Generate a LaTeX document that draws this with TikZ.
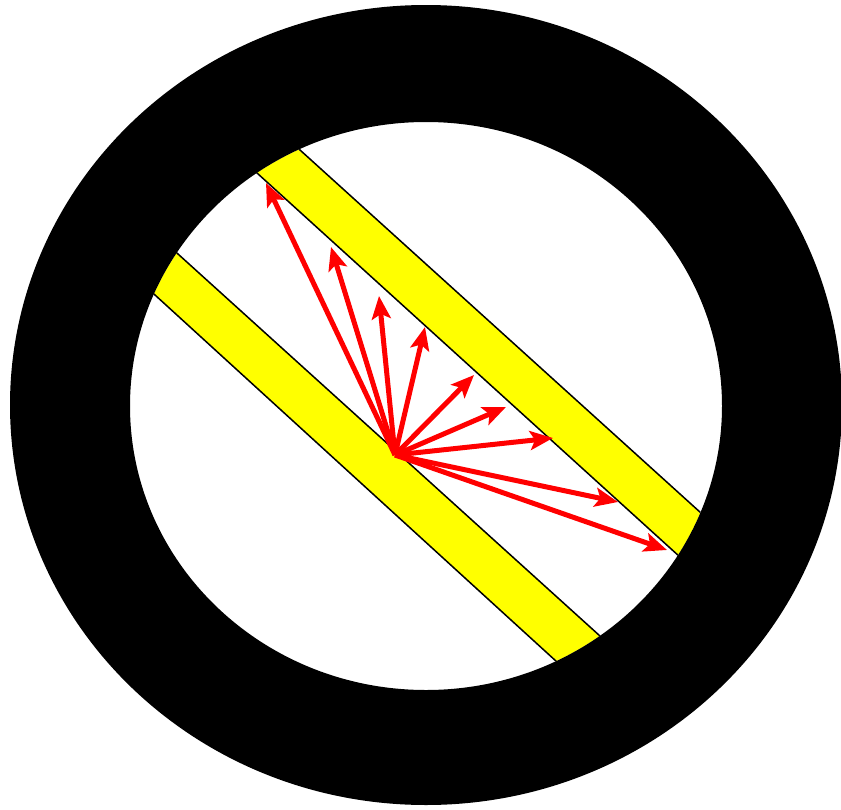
\documentclass[tikz,border=0pt]{standalone}
\usetikzlibrary{arrows.meta, positioning, calc}

\definecolor{bandyellow}{RGB}{255,255,0}
\definecolor{rayred}{RGB}{255,0,0}

\tikzset{
  bandedge/.style={draw=black, line width=1.5pt},
  ray/.style={draw=rayred, line width=5pt, -{Stealth[length=23pt, width=19pt, inset=5pt]}},
}

\begin{document}
\begin{tikzpicture}[x=1pt, y=-1pt]
\useasboundingbox (0,0) rectangle (841,809);

% edges of the two bands
\coordinate (lo1) at (155,295); \coordinate (lo2) at (557,662);
\coordinate (lu1) at (178,254); \coordinate (lu2) at (600,636);
\coordinate (ul1) at (257,173); \coordinate (ul2) at (680,557);
\coordinate (uu1) at (300,150); \coordinate (uu2) at (701,513);

\begin{scope}
\clip (426,406) ellipse [x radius=296, y radius=284];
\fill[bandyellow] ($(lo1)!-0.2!(lo2)$) -- ($(lo1)!1.2!(lo2)$) -- ($(lu1)!1.2!(lu2)$) -- ($(lu1)!-0.2!(lu2)$) -- cycle;
\fill[bandyellow] ($(ul1)!-0.2!(ul2)$) -- ($(ul1)!1.2!(ul2)$) -- ($(uu1)!1.2!(uu2)$) -- ($(uu1)!-0.2!(uu2)$) -- cycle;
\foreach \a/\b in {lo1/lo2, lu1/lu2, ul1/ul2, uu1/uu2}
  \draw[bandedge] ($(\a)!-0.2!(\b)$) -- ($(\a)!1.2!(\b)$);
\end{scope}

% ring
\fill[black, even odd rule] (426,405) ellipse [x radius=416, y radius=400]
  (426,406) ellipse [x radius=296, y radius=284];

% rays
\coordinate (src) at (395,455);
\coordinate (t1) at (266,183);
\coordinate (t2) at (331,247);
\coordinate (t3) at (379,296);
\coordinate (t4) at (425,327);
\coordinate (t5) at (474,375);
\coordinate (t6) at (506,407);
\coordinate (t7) at (553,438);
\coordinate (t8) at (618,502);
\coordinate (t9) at (667,550);
\foreach \n in {1,...,9}
  \draw[ray] (src) -- (t\n);
\end{tikzpicture}
\end{document}
